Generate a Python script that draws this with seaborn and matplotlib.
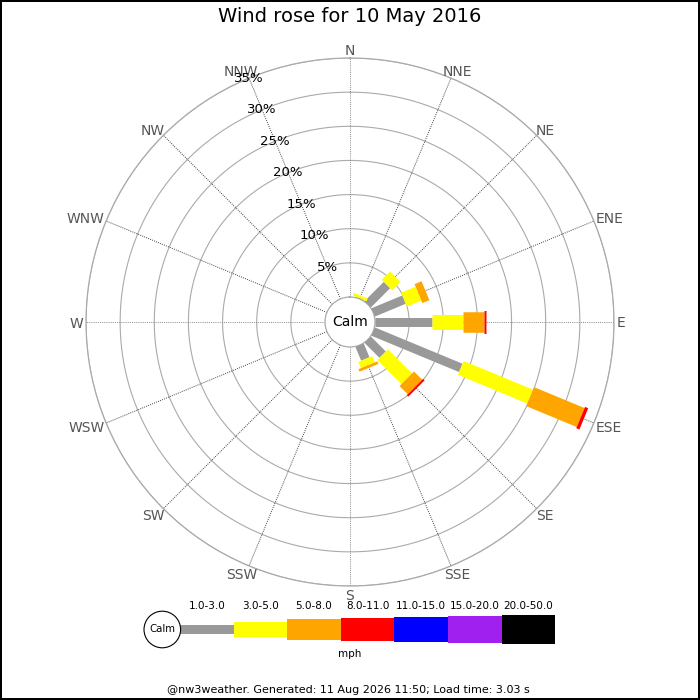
import numpy as np
import matplotlib
matplotlib.use("Agg")
import matplotlib.pyplot as plt
import seaborn as sns

# ---- data (percent of time, per direction and speed band) ----
directions = ["N", "NNE", "NE", "ENE", "E", "ESE", "SE", "SSE",
              "S", "SSW", "SW", "WSW", "W", "WNW", "NW", "NNW"]
speed_bins = ["1.0-3.0", "3.0-5.0", "5.0-8.0", "8.0-11.0",
              "11.0-15.0", "15.0-20.0", "20.0-50.0"]
band_colors = ["#999999", "#ffff00", "#ffa500", "#ff0000",
               "#0000ff", "#a020f0", "#000000"]

pct_1_3 = [0, 0.1, 4.0, 4.9, 8.4, 13.9, 3.1, 2.2, 0, 0, 0, 0, 0, 0, 0, 0]
pct_3_5 = [0, 0.4, 1.7, 2.3, 4.5, 11.0, 5.0, 1.0, 0, 0, 0, 0, 0, 0, 0, 0]
pct_5_8 = [0, 0, 0, 1.1, 3.0, 8.0, 1.7, 0.4, 0, 0, 0, 0, 0, 0, 0, 0]
pct_8_11 = [0, 0, 0, 0, 0.3, 0.5, 0.3, 0, 0, 0, 0, 0, 0, 0, 0, 0]
pct_11_15 = [0] * 16
pct_15_20 = [0] * 16
pct_20_50 = [0] * 16
bands = [pct_1_3, pct_3_5, pct_5_8, pct_8_11, pct_11_15, pct_15_20, pct_20_50]

ring_pcts = [5, 10, 15, 20, 25, 30, 35]
title = "Wind rose for 10 May 2016"
footer = "@nw3weather. Generated: 11 Aug 2026 11:50; Load time: 3.03 s"

# bar thickness per band, in pixels (dpi 100)
band_px = [9, 15, 20.5, 23, 25, 27, 28.3]

sns.set_theme(style="white")
plt.rcParams["font.family"] = ["DejaVu Sans"]
plt.rcParams["text.color"] = "black"

fig = plt.figure(figsize=(7, 7), dpi=100, facecolor="white",
                 edgecolor="black", linewidth=1.5)

# polar rose: centre (350, 322) px, outer ring radius 264 px, calm hole 25 px
R = 264
ax = fig.add_axes([(350 - R) / 700, (378 - R) / 700, 2 * R / 700, 2 * R / 700],
                  projection="polar")
ax.set_theta_zero_location("N")
ax.set_theta_direction(-1)
rmax = ring_pcts[-1]
rorigin = -25 * rmax / (R - 25)
ax.set_ylim(0, rmax)
ax.set_rorigin(rorigin)
ax.grid(False)
ax.set_xticks([])
ax.set_yticks([])
for name, sp in ax.spines.items():
    sp.set_color("#aaaaaa")
    sp.set_linewidth(0.9)

theta = np.arange(16) * 2 * np.pi / 16
tt = np.linspace(0, 2 * np.pi, 400)
for r in ring_pcts:
    ax.plot(tt, np.full_like(tt, r), color="#aaaaaa", lw=0.8, zorder=1)
for i, t in enumerate(theta):
    c = "#888888" if i % 4 == 0 else "#444444"
    ax.plot([t, t], [0, rmax], color=c, lw=0.7, ls=(0, (1, 1.2)), zorder=1)

# stacked bars as thick radial strokes
base = np.zeros(16)
for vals, col, px in zip(bands, band_colors, band_px):
    vals = np.array(vals, dtype=float)
    for t, b, v in zip(theta, base, vals):
        if v > 0:
            ax.plot([t, t], [b, b + v], color=col, lw=px * 0.72,
                    solid_capstyle="butt", zorder=3)
    base = base + vals

# calm circle
ax.text(0.5, 0.5, "Calm", transform=ax.transAxes, ha="center", va="center",
        fontsize=10, color="black", zorder=5)

# percentage labels along NNW spoke
for r in ring_pcts:
    ax.text(theta[15], r, f"{r}%", ha="center", va="center", fontsize=9.5,
            color="black", zorder=6)

# direction labels just outside the ring
fig.canvas.draw()
rend = fig.canvas.get_renderer()
for t, lab in zip(theta, directions):
    ux, uy = np.sin(t), np.cos(t)
    txt = ax.annotate(lab, xy=(t, rmax), xytext=(0, 0), textcoords="offset pixels",
                      ha="center", va="center", fontsize=10, color="#555555",
                      annotation_clip=False)
    bb = txt.get_window_extent(rend)
    w, h = bb.width, bb.height
    txt.xyann = (ux * (3 + w / 2), uy * (1 + h / 2) - 1.5)

fig.text(0.5, 1 - 17 / 700, title, ha="center", va="center", fontsize=14,
         color="black")

# legend strip, drawn in pixel coordinates
lg = fig.add_axes([0, 0, 1, 1])
lg.set_xlim(0, 700)
lg.set_ylim(700, 0)
lg.axis("off")
seg_w = 53.6
x0 = 180
cy = 629.5
centers = x0 + seg_w * (np.arange(len(speed_bins)) + 0.5)
heights = np.array(band_px)
lg.bar(centers, heights, width=seg_w, bottom=cy - heights / 2,
       color=band_colors, linewidth=0)
for xc, lab in zip(centers, speed_bins):
    lg.text(xc, 606, lab, ha="center", va="center", fontsize=7.5)
lg.add_patch(plt.Circle((162.3, cy), 18.3, facecolor="white",
                        edgecolor="black", lw=0.8))
lg.text(162.3, cy, "Calm", ha="center", va="center", fontsize=7.3)
lg.text(350, 654, "mph", ha="center", va="center", fontsize=7.5)
lg.text(348, 690, footer, ha="center", va="center", fontsize=8)

fig.savefig("out.png", dpi=100)
